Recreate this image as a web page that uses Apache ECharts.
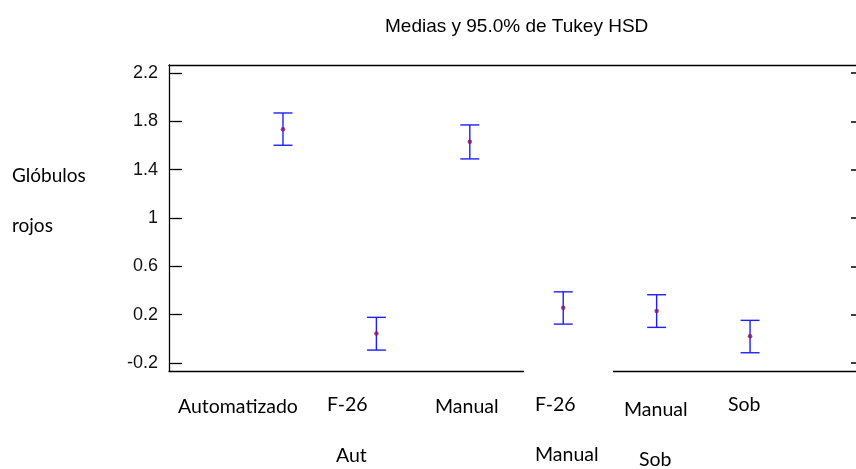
<!DOCTYPE html>
<html>
<head>
<meta charset="utf-8">
<script src="https://cdn.jsdelivr.net/npm/echarts@6/dist/echarts.min.js"></script>
<style>
  html, body { margin: 0; padding: 0; background: #fff; }
  #chart { width: 856px; height: 469px; }
</style>
</head>
<body>
<div id="chart"></div>
<script>
// Group names (one entry per group, two-line names split by \n)
const categories = ['Automatizado', 'F-26\nAut', 'Manual', 'F-26\nManual', 'Manual\nSob', 'Sob'];
// Group means and 95% Tukey HSD interval limits
const means = [1.735, 0.044, 1.630, 0.257, 0.230, 0.021];
const lower = [1.602, -0.093, 1.489, 0.122, 0.095, -0.115];
const upper = [1.869, 0.178, 1.770, 0.389, 0.365, 0.153];
// Y axis tick values
const yTicks = [-0.2, 0.2, 0.6, 1, 1.4, 1.8, 2.2];

const titleText = 'Medias y 95.0% de Tukey HSD';
const yNameLines = ['Glóbulos', 'rojos'];

// Placement of each line of the group names below the axis
const nameLayout = [
  [[178, 407]],
  [[327, 405], [336, 456]],
  [[435, 407]],
  [[535, 405], [535, 455]],
  [[624, 410], [639, 460]],
  [[728, 405]]
];

const labelFont = 'Lato, "Noto Sans", sans-serif';
const numFont = '"Liberation Sans", Arial, sans-serif';

const chart = echarts.init(document.getElementById('chart'), null, { renderer: 'canvas' });

const graphics = [];
categories.forEach((name, i) => {
  name.split('\n').forEach((line, j) => {
    const pos = nameLayout[i][j];
    graphics.push({
      type: 'text', x: pos[0], y: pos[1], z: 10,
      style: { text: line, fill: '#000', font: '19.5px ' + labelFont, textAlign: 'left', textVerticalAlign: 'middle' }
    });
  });
});
[[12, 176], [12, 226]].forEach((pos, j) => {
  graphics.push({
    type: 'text', x: pos[0], y: pos[1], z: 10,
    style: { text: yNameLines[j], fill: '#000', font: '19px ' + labelFont, textAlign: 'left', textVerticalAlign: 'middle' }
  });
});
// gap in the bottom frame line
graphics.push({
  type: 'rect', z: 100,
  shape: { x: 524, y: 367, width: 89, height: 8 },
  style: { fill: '#fff' }
});

const option = {
  animation: false,
  backgroundColor: '#fff',
  title: {
    text: titleText,
    left: 380, top: 12,
    textStyle: { fontFamily: numFont, fontSize: 19, fontWeight: 'normal', color: '#000' }
  },
  grid: { left: 169, top: 65, right: 0, bottom: 98, containLabel: false },
  xAxis: [
    {
      type: 'value', min: -0.22, max: 7.134, position: 'bottom',
      axisLine: { show: true, onZero: false, lineStyle: { color: '#000', width: 1.3 } },
      axisTick: { show: false }, axisLabel: { show: false }, splitLine: { show: false }
    },
    {
      type: 'value', min: -0.22, max: 7.134, position: 'top',
      axisLine: { show: true, onZero: false, lineStyle: { color: '#000', width: 1.3 } },
      axisTick: { show: false }, axisLabel: { show: false }, splitLine: { show: false }
    }
  ],
  yAxis: [
    {
      type: 'value', min: -0.266, max: 2.266, position: 'left',
      axisLine: { show: true, onZero: false, lineStyle: { color: '#000', width: 1.3 } },
      axisTick: { show: true, inside: true, length: 13, customValues: yTicks, lineStyle: { color: '#000', width: 1.3 } },
      axisLabel: {
        show: true, customValues: yTicks, margin: 11,
        fontFamily: numFont, fontSize: 18, color: '#111',
        formatter: v => String(Math.round(v * 10) / 10)
      },
      splitLine: { show: false }
    },
    {
      type: 'value', min: -0.266, max: 2.266, position: 'right',
      axisLine: { show: false, onZero: false },
      axisTick: { show: true, inside: true, length: 5, customValues: yTicks, lineStyle: { color: '#000', width: 1.5 } },
      axisLabel: { show: false },
      splitLine: { show: false }
    }
  ],
  series: [
    {
      type: 'custom',
      xAxisIndex: 0, yAxisIndex: 0,
      data: categories.map((c, i) => [i + 1, lower[i], upper[i]]),
      renderItem: function (params, api) {
        const x = api.value(0);
        const lo = api.coord([x, api.value(1)]);
        const hi = api.coord([x, api.value(2)]);
        const hw = 9.5;
        const st = { stroke: '#1f1fff', lineWidth: 1.4 };
        return {
          type: 'group',
          children: [
            { type: 'line', shape: { x1: lo[0], y1: lo[1], x2: hi[0], y2: hi[1] }, style: st },
            { type: 'line', shape: { x1: hi[0] - hw, y1: hi[1], x2: hi[0] + hw, y2: hi[1] }, style: st },
            { type: 'line', shape: { x1: lo[0] - hw, y1: lo[1], x2: lo[0] + hw, y2: lo[1] }, style: st }
          ]
        };
      },
      z: 2
    },
    {
      type: 'scatter',
      xAxisIndex: 0, yAxisIndex: 0,
      data: means.map((m, i) => [i + 1, m]),
      symbol: 'circle', symbolSize: 4.5,
      itemStyle: { color: '#8e1058' },
      z: 3
    }
  ],
  graphic: graphics
};

chart.setOption(option);
</script>
</body>
</html>
